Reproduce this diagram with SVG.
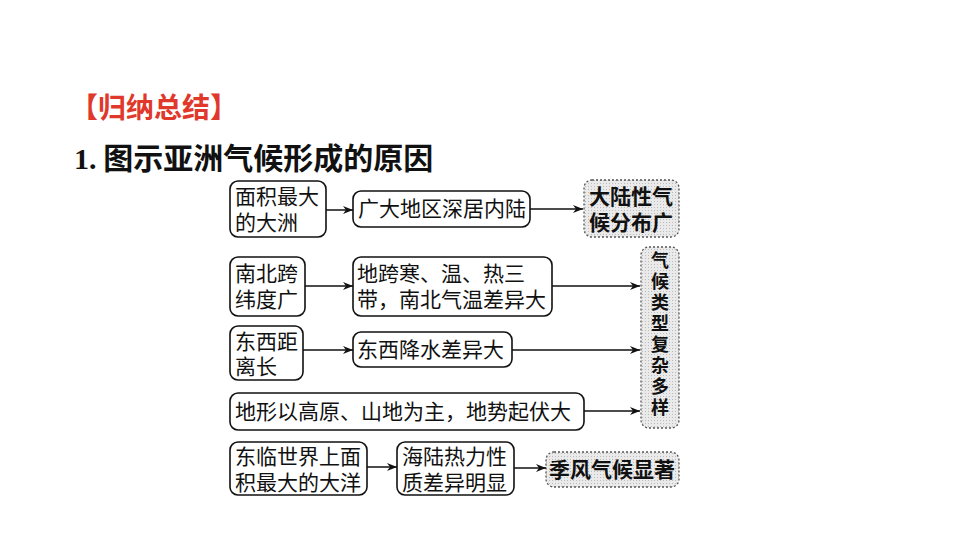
<svg xmlns="http://www.w3.org/2000/svg" width="960" height="540" viewBox="0 0 960 540">
<defs>
<marker id="ah" markerWidth="10" markerHeight="8" refX="10" refY="4" orient="auto" markerUnits="userSpaceOnUse"><path d="M0,0 L10,4 L0,8 L3,4 Z" fill="#111"/></marker>
<pattern id="dots" width="3" height="3" patternUnits="userSpaceOnUse"><rect width="3" height="3" fill="#eaeaea"/><rect width="1" height="1" fill="#bbb"/></pattern>
<style>
.b{fill:#fff;stroke:#111;stroke-width:1.6}
.d{fill:url(#dots);stroke:#555;stroke-width:1.3;stroke-dasharray:2 2}
.t{font-family:"Liberation Serif","Noto Sans CJK SC",serif;font-size:21px;fill:#111}
.tb{font-family:"Noto Sans CJK SC",sans-serif;font-size:21px;font-weight:bold;fill:#111}
.v{font-family:"Noto Sans CJK SC",sans-serif;font-size:18px;font-weight:bold;fill:#111}
.c line{stroke:#111;stroke-width:1.5;marker-end:url(#ah)}
</style>
</defs>
<rect width="960" height="540" fill="#fff"/>
<text x="70" y="118" font-family="Noto Sans CJK SC,sans-serif" font-size="28" font-weight="bold" fill="#e0392b">【归纳总结】</text>
<text x="74" y="169" font-family="Noto Sans CJK SC,sans-serif" font-size="30" font-weight="bold" fill="#111"><tspan font-family="Liberation Serif,serif">1.</tspan> 图示亚洲气候形成的原因</text>
<g id="n1"><rect class="b" x="230" y="181" width="96" height="56" rx="8"/><text class="t" x="235" y="204">面积最大</text><text class="t" x="235" y="230">的大洲</text></g>
<g id="n2"><rect class="b" x="353" y="191" width="177" height="36" rx="8"/><text class="t" x="358" y="216">广大地区深居内陆</text></g>
<g id="n3"><rect class="d" x="584" y="180" width="95" height="57" rx="8"/><text class="tb" x="589" y="204">大陆性气</text><text class="tb" x="589" y="230">候分布广</text></g>
<g id="n4"><rect class="b" x="230" y="257" width="75" height="59" rx="8"/><text class="t" x="235" y="281">南北跨</text><text class="t" x="235" y="307">纬度广</text></g>
<g id="n5"><rect class="b" x="353" y="257" width="199" height="59" rx="8"/><text class="t" x="357" y="281">地跨寒、温、热三</text><text class="t" x="357" y="307">带，南北气温差异大</text></g>
<g id="n6"><rect class="d" x="641" y="247" width="38" height="181" rx="8"/><text class="v" x="651" y="267">气</text><text class="v" x="651" y="288">候</text><text class="v" x="651" y="309">类</text><text class="v" x="651" y="330">型</text><text class="v" x="651" y="351">复</text><text class="v" x="651" y="372">杂</text><text class="v" x="651" y="393">多</text><text class="v" x="651" y="414">样</text></g>
<g id="n7"><rect class="b" x="230" y="326" width="73" height="54" rx="8"/><text class="t" x="235" y="349">东西距</text><text class="t" x="235" y="374">离长</text></g>
<g id="n8"><rect class="b" x="353" y="332" width="159" height="35" rx="8"/><text class="t" x="357" y="357">东西降水差异大</text></g>
<g id="n9"><rect class="b" x="230" y="393" width="354" height="37" rx="8"/><text class="t" x="235" y="419">地形以高原、山地为主，地势起伏大</text></g>
<g id="n10"><rect class="b" x="230" y="442" width="137" height="53" rx="8"/><text class="t" x="235" y="464">东临世界上面</text><text class="t" x="235" y="490">积最大的大洋</text></g>
<g id="n11"><rect class="b" x="397" y="442" width="117" height="53" rx="8"/><text class="t" x="402" y="464">海陆热力性</text><text class="t" x="402" y="490">质差异明显</text></g>
<g id="n12"><rect class="d" x="546" y="452" width="133" height="35" rx="8"/><text class="tb" x="549" y="477">季风气候显著</text></g>
<g class="c" id="edges">
<line x1="326" y1="210" x2="353" y2="210"/>
<line x1="530" y1="209" x2="583" y2="209"/>
<line x1="305" y1="286" x2="353" y2="286"/>
<line x1="552" y1="286" x2="640" y2="286"/>
<line x1="303" y1="350" x2="353" y2="350"/>
<line x1="512" y1="350" x2="640" y2="350"/>
<line x1="584" y1="411" x2="640" y2="411"/>
<line x1="367" y1="467" x2="397" y2="467"/>
<line x1="514" y1="468" x2="546" y2="468"/>
</g>
</svg>
